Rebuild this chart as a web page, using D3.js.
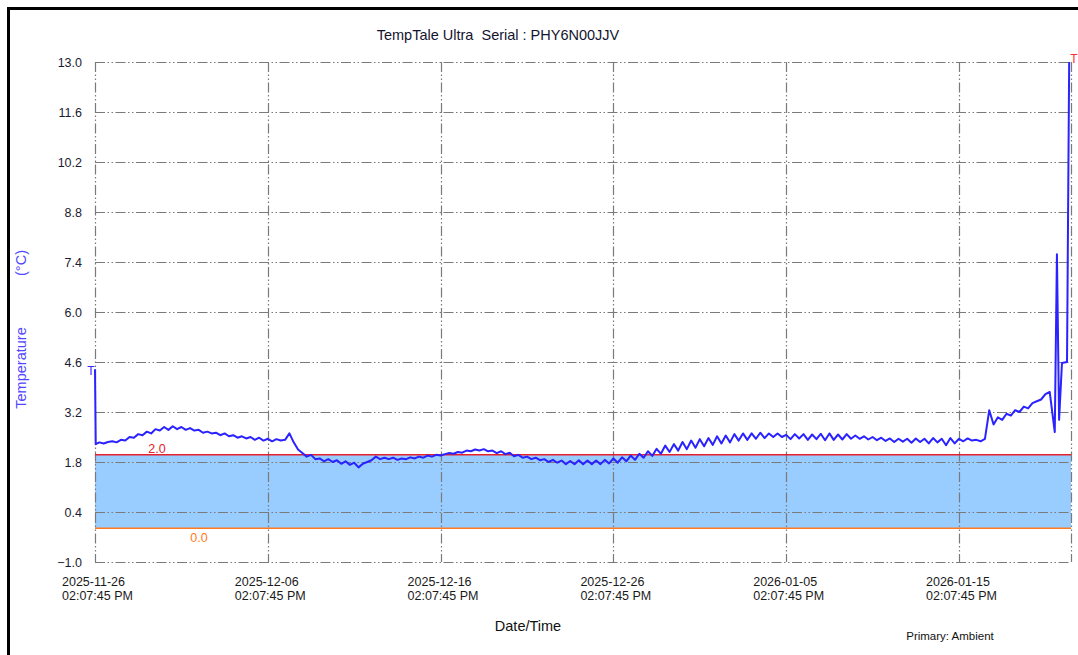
<!DOCTYPE html>
<html>
<head>
<meta charset="utf-8">
<script src="https://cdn.jsdelivr.net/npm/d3@7"></script>
<style>
  body { margin: 0; background: #fff; }
  svg { display: block; font-family: "Liberation Sans", Arial, sans-serif; }
</style>
</head>
<body>
<svg id="chart" width="1078" height="655"></svg>
<script>
// logger settings
const logStart = new Date(2025, 10, 26, 14, 7, 45);
const logEnd = new Date(2026, 0, 22, 1, 40, 0);
const stepHours = 6;

// first readings right after start (hours, deg C)
const headHours = [0, 1];
const headTemps = [4.4, 2.3];

// readings every 6 hours from hour 6 on, one row per day
const regularTemps = [
  2.35, 2.32, 2.36,
  2.38, 2.35, 2.42, 2.4,
  2.5, 2.48, 2.58, 2.55,
  2.65, 2.6, 2.72, 2.68,
  2.78, 2.7, 2.8, 2.72,
  2.78, 2.7, 2.75, 2.68,
  2.7, 2.62, 2.65, 2.6,
  2.62, 2.55, 2.6, 2.52,
  2.55, 2.48, 2.52, 2.46,
  2.5, 2.42, 2.48, 2.4,
  2.45, 2.38, 2.44, 2.4,
  2.42, 2.6, 2.35, 2.15,
  2.05, 1.95, 2.0, 1.88,
  1.9, 1.82, 1.88, 1.8,
  1.85, 1.75, 1.82, 1.72,
  1.78, 1.65, 1.75, 1.8,
  1.85, 1.95, 1.88, 1.92,
  1.88, 1.92, 1.86, 1.9,
  1.88, 1.93, 1.9, 1.95,
  1.92, 1.98, 1.95, 2.0,
  1.98, 2.02, 2.05, 2.03,
  2.08, 2.06, 2.12, 2.1,
  2.15, 2.12, 2.16, 2.1,
  2.12, 2.05, 2.1, 2.02,
  2.06, 1.96, 2.0, 1.92,
  1.95, 1.88, 1.92, 1.85,
  1.88, 1.8, 1.86, 1.78,
  1.84, 1.74, 1.83, 1.74,
  1.85, 1.74, 1.84, 1.74,
  1.84, 1.74, 1.86, 1.76,
  1.9, 1.78, 1.93, 1.82,
  1.98, 1.86, 2.03, 1.92,
  2.1, 1.97, 2.17, 2.03,
  2.26, 2.08, 2.3, 2.12,
  2.36, 2.16, 2.4, 2.2,
  2.44, 2.24, 2.47, 2.28,
  2.52, 2.32, 2.54, 2.35,
  2.58, 2.4, 2.6, 2.42,
  2.6, 2.45, 2.62, 2.47,
  2.6, 2.5, 2.6, 2.5,
  2.56, 2.44, 2.58, 2.46,
  2.58, 2.42, 2.57, 2.44,
  2.59, 2.41, 2.6, 2.42,
  2.57, 2.43, 2.58, 2.45,
  2.54, 2.45, 2.52, 2.43,
  2.5, 2.41, 2.48, 2.39,
  2.46, 2.36, 2.45, 2.37,
  2.45, 2.34, 2.46, 2.36,
  2.45, 2.32, 2.47, 2.35,
  2.45, 2.27, 2.47, 2.32,
  2.45, 2.38, 2.46, 2.4,
  2.42, 2.38, 2.45, 3.25,
  2.85, 3.05, 2.98, 3.15,
  3.1, 3.25, 3.2, 3.35,
  3.3, 3.45, 3.5, 3.55,
  3.7
];

// last hours of the trip, irregular
const tailHours = [1326, 1333, 1336, 1339, 1343, 1350, 1353];
const tailTemps = [3.76, 2.64, 7.62, 2.98, 4.57, 4.6, 13.0];

const xTickDates = ["2025-11-26", "2025-12-06", "2025-12-16", "2025-12-26", "2026-01-05", "2026-01-15"];
const yTicks = [-1.0, 0.4, 1.8, 3.2, 4.6, 6.0, 7.4, 8.8, 10.2, 11.6, 13.0];
const upperLimit = 2.0;
const lowerLimit = 0.0;

const hour = 3600 * 1000;
const atHour = h => new Date(+logStart + h * hour);
const readings = headHours.map((h, i) => ({ time: atHour(h), temp: headTemps[i] }))
  .concat(regularTemps.map((t, i) => ({ time: atHour((i + 1) * stepHours), temp: t })))
  .concat(tailHours.map((h, i) => ({ time: atHour(h), temp: tailTemps[i] })));

const svg = d3.select("#chart");
const plot = { left: 95, right: 1071, top: 62, bottom: 562 };

const x = d3.scaleTime().domain([logStart, logEnd]).range([plot.left, plot.right]);
const y = d3.scaleLinear().domain([-1, 13]).range([plot.bottom, plot.top]);

// outer frame
svg.append("rect")
  .attr("x", 8.5).attr("y", 8.5)
  .attr("width", 1090).attr("height", 670)
  .attr("fill", "none").attr("stroke", "#000").attr("stroke-width", 3);

// acceptable band
svg.append("rect")
  .attr("x", plot.left).attr("y", y(upperLimit))
  .attr("width", plot.right - plot.left)
  .attr("height", y(lowerLimit) + 2 - y(upperLimit))
  .attr("fill", "#99ccff");

const xTicks = xTickDates.map(d => {
  const p = d.split("-").map(Number);
  return new Date(p[0], p[1] - 1, p[2], 14, 7, 45);
});

const dash = "10,2.5,1.5,2.5,1.5,2.5";
const grid = svg.append("g").attr("stroke", "#7a7a7a").attr("stroke-width", 1.2).attr("stroke-dasharray", dash);
grid.selectAll(".h").data(yTicks).join("line")
  .attr("x1", plot.left).attr("x2", plot.right)
  .attr("y1", d => Math.round(y(d)) + 0.5).attr("y2", d => Math.round(y(d)) + 0.5);
grid.selectAll(".v").data(xTicks.concat([logEnd])).join("line")
  .attr("x1", d => Math.round(x(d)) + 0.5).attr("x2", d => Math.round(x(d)) + 0.5)
  .attr("y1", plot.top).attr("y2", plot.bottom);

// y axis labels
const yAxis = svg.append("g")
  .attr("transform", `translate(${plot.left - 10},0)`)
  .call(d3.axisLeft(y).tickValues(yTicks).tickFormat(d3.format(".1f")).tickSize(0));
yAxis.select(".domain").remove();
yAxis.selectAll("text").attr("font-size", 12.5).attr("fill", "#1a1a33")
  .attr("font-family", "Liberation Sans, Arial, sans-serif");

// x axis labels, two lines
const fmtDate = d3.timeFormat("%Y-%m-%d");
const fmtTime = d3.timeFormat("%I:%M:%S %p");
const xl = svg.append("g").selectAll("text").data(xTicks).join("text")
  .attr("x", d => x(d) - 33)
  .attr("y", 586)
  .attr("font-size", 12.5).attr("fill", "#1a1a1a");
xl.append("tspan").text(d => fmtDate(d));
xl.append("tspan").attr("x", d => x(d) - 33).attr("dy", 14).text(d => fmtTime(d));

// limit lines
svg.append("line")
  .attr("x1", plot.left).attr("x2", plot.right)
  .attr("y1", y(upperLimit)).attr("y2", y(upperLimit))
  .attr("stroke", "#e8202a").attr("stroke-width", 1.5);
svg.append("line")
  .attr("x1", plot.left).attr("x2", plot.right)
  .attr("y1", y(lowerLimit) + 2).attr("y2", y(lowerLimit) + 2)
  .attr("stroke", "#ff7a20").attr("stroke-width", 1.5);
svg.append("text").attr("x", 157).attr("y", y(upperLimit) - 2)
  .attr("text-anchor", "middle").attr("font-size", 12.5).attr("fill", "#e8202a").text(upperLimit.toFixed(1));
svg.append("text").attr("x", 199).attr("y", y(lowerLimit) + 16)
  .attr("text-anchor", "middle").attr("font-size", 12.5).attr("fill", "#ff7a20").text(lowerLimit.toFixed(1));

// temperature trace
const line = d3.line().x(d => x(d.time)).y(d => y(d.temp));
svg.append("path")
  .datum(readings)
  .attr("d", line)
  .attr("fill", "none")
  .attr("stroke", "#2a22ff")
  .attr("stroke-width", 2)
  .attr("stroke-linejoin", "round");

// trip start / stop marks
const first = readings[0], last = readings[readings.length - 1];
svg.append("text").attr("x", x(first.time) - 4).attr("y", y(first.temp) + 6)
  .attr("text-anchor", "middle").attr("font-size", 12).attr("fill", "#3a2aff").text("T");
svg.append("text").attr("x", x(last.time) + 1).attr("y", y(last.temp) + 1)
  .attr("font-size", 12).attr("fill", "#ff3030").text("T");

// titles
svg.append("text").attr("x", 498).attr("y", 40).attr("text-anchor", "middle")
  .attr("font-size", 14.5).attr("fill", "#141430").attr("xml:space", "preserve")
  .text("TempTale Ultra  Serial : PHY6N00JJV");
svg.append("text").attr("transform", "translate(26,368) rotate(-90)")
  .attr("text-anchor", "middle").attr("font-size", 14.5).attr("fill", "#5046ff").text("Temperature");
svg.append("text").attr("transform", "translate(26,263) rotate(-90)")
  .attr("text-anchor", "middle").attr("font-size", 14.5).attr("fill", "#5046ff").text("(°C)");
svg.append("text").attr("x", 528).attr("y", 631).attr("text-anchor", "middle")
  .attr("font-size", 14.5).attr("fill", "#111").text("Date/Time");
svg.append("text").attr("x", 950).attr("y", 640).attr("text-anchor", "middle")
  .attr("font-size", 11.5).attr("fill", "#111").text("Primary: Ambient");
</script>
</body>
</html>
